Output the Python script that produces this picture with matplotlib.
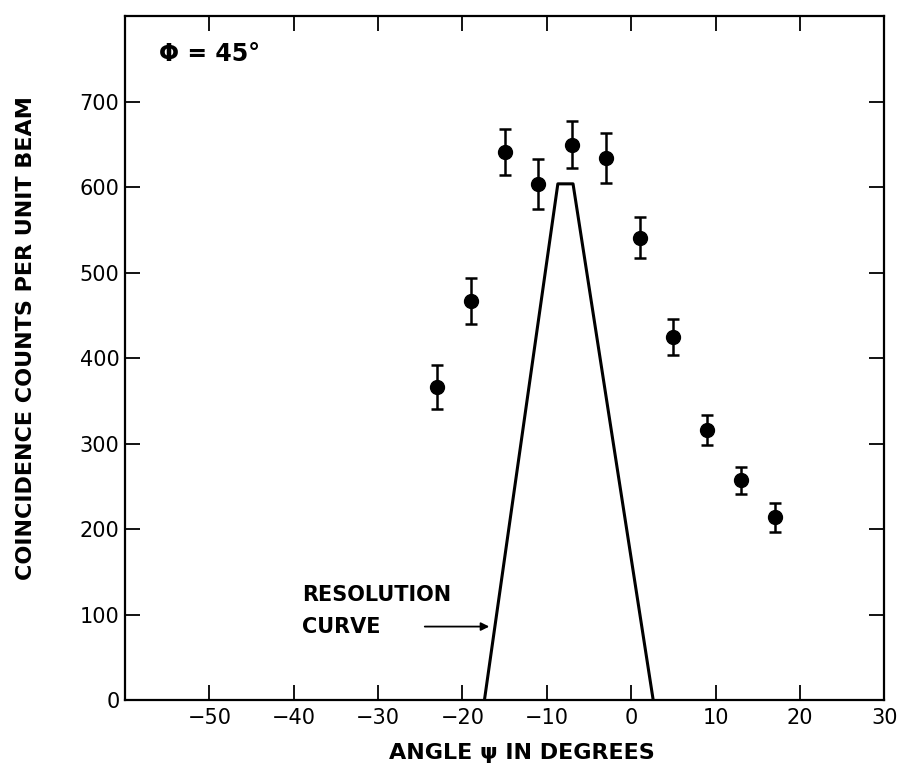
import numpy as np
import matplotlib.pyplot as plt

# angle psi [deg], coincidence counts per unit beam, error
psi = [-23, -19, -15, -11, -7, -3, 1, 5, 9, 13, 17]
counts = [366, 467, 641, 604, 650, 634, 541, 425, 316, 257, 214]
err = [26, 27, 27, 29, 28, 29, 24, 21, 18, 16, 17]

# resolution curve (trapezoid)
res_x = [-17.4, -8.7, -6.9, 2.6]
res_y = [0, 604, 604, 0]

xticks = [-50, -40, -30, -20, -10, 0, 10, 20, 30]
yticks = [0, 100, 200, 300, 400, 500, 600, 700]

plt.rcParams['font.family'] = 'DejaVu Sans'

fig = plt.figure(figsize=(9.03, 7.77), dpi=100)
ax = fig.add_axes([0.1384, 0.099, 0.841, 0.88])

ax.plot(res_x, res_y, '-', color='black', linewidth=2.2)
ax.errorbar(psi, counts, yerr=err, fmt='o', color='black', markersize=10,
            elinewidth=1.8, capsize=4, capthick=1.8)

ax.set_xlim(-60, 30)
ax.set_ylim(0, 800)
ax.set_xticks(xticks)
ax.set_yticks(yticks)
ax.set_yticklabels([str(v) for v in yticks])
ax.tick_params(direction='in', length=11, width=1.3, top=True, right=True,
               labelsize=15)
ax.tick_params(axis='x', pad=6)
ax.tick_params(axis='y', pad=4)
for s in ax.spines.values():
    s.set_linewidth(1.6)

ax.set_xlabel('ANGLE ψ IN DEGREES', fontsize=16, fontweight='bold')
ax.set_ylabel('COINCIDENCE COUNTS PER UNIT BEAM', fontsize=16,
              fontweight='bold')
ax.xaxis.set_label_coords(0.522, -0.063)
ax.yaxis.set_label_coords(-0.117, 0.53)

ax.text(-56, 756, 'Φ = 45°', fontsize=17, fontweight='bold', va='center')
ax.text(-39, 123, 'RESOLUTION', fontsize=15, fontweight='bold', va='center')
ax.text(-39, 85, 'CURVE', fontsize=15, fontweight='bold', va='center')
ax.annotate('', xy=(-16.5, 86), xytext=(-24.8, 86),
            arrowprops=dict(arrowstyle='-|>', color='black', lw=1.3,
                            mutation_scale=12))

fig.savefig('out.png', dpi=100)
